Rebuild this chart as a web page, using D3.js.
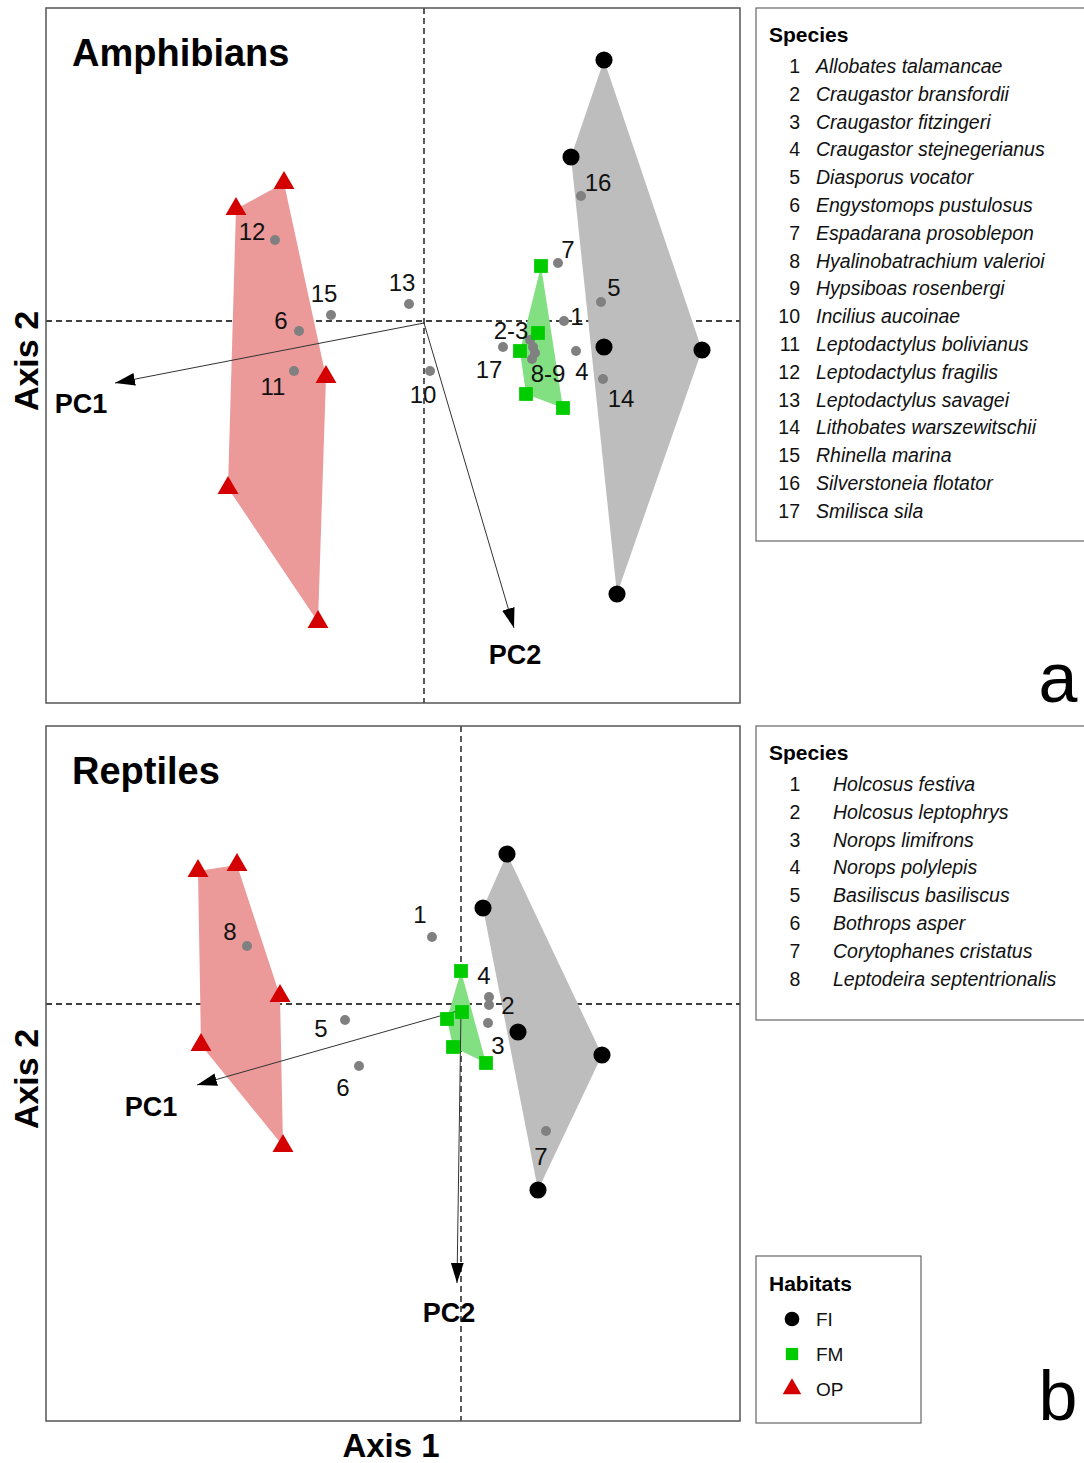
<!DOCTYPE html>
<html>
<head>
<meta charset="utf-8">
<script src="https://cdn.jsdelivr.net/npm/d3@7"></script>
<style>
  body { margin: 0; background: #fff; }
  text { font-family: "Liberation Sans", Arial, sans-serif; }
</style>
</head>
<body>
<div id="graph"></div>
<script>
// ---- data (ordination scores) ----
var habitats = ['FI', 'FM', 'OP']

// amphibians
var amphFI = [[1.80, 2.61], [1.47, 1.64], [1.80, -0.26], [2.78, -0.29], [1.93, -2.73]]
var amphFM = [[1.17, 0.55], [1.14, -0.12], [0.96, -0.30], [1.02, -0.73], [1.39, -0.87]]
var amphOP = [[-1.40, 1.38], [-1.88, 1.12], [-0.98, -0.56], [-1.96, -1.67], [-1.06, -3.01]]
var amphSpeciesPts = [[1.40, 0.00], [1.06, -0.19], [1.09, -0.26], [1.52, -0.30], [1.77, 0.19],
  [-1.25, -0.10], [1.34, 0.58], [1.11, -0.32], [1.08, -0.38], [0.06, -0.50], [-1.30, -0.50],
  [-1.49, 0.81], [-0.15, 0.17], [1.79, -0.58], [-0.93, 0.06], [1.57, 1.25], [0.79, -0.26]]
var amphPtLabels = ['1', '2-3', '4', '5', '6', '7', '8-9', '10', '11', '12', '13', '14', '15', '16', '17']
var amphPtLabelXY = [[1.53, 0.05], [0.87, -0.09], [1.58, -0.50], [1.90, 0.34], [-1.43, 0.01],
  [1.44, 0.72], [1.24, -0.52], [-0.01, -0.73], [-1.51, -0.65], [-1.72, 0.90], [-0.22, 0.39],
  [1.97, -0.77], [-1.00, 0.28], [1.74, 1.39], [0.65, -0.48]]
var amphOrigin = [0, -0.02]
var amphPC = [[-3.09, -0.62], [0.90, -3.07]]
var amphPCLabelXY = [[-3.43, -0.83], [0.91, -3.34]]
var amphSpecies = ['Allobates talamancae', 'Craugastor bransfordii', 'Craugastor fitzingeri',
  'Craugastor stejnegerianus', 'Diasporus vocator', 'Engystomops pustulosus',
  'Espadarana prosoblepon', 'Hyalinobatrachium valerioi', 'Hypsiboas rosenbergi',
  'Incilius aucoinae', 'Leptodactylus bolivianus', 'Leptodactylus fragilis',
  'Leptodactylus savagei', 'Lithobates warszewitschii', 'Rhinella marina',
  'Silverstoneia flotator', 'Smilisca sila']

// reptiles
var reptFI = [[0.46, 1.50], [0.22, 0.96], [0.57, -0.28], [1.41, -0.51], [0.77, -1.86]]
var reptFM = [[0.00, 0.33], [0.01, -0.08], [-0.14, -0.15], [-0.08, -0.43], [0.25, -0.59]]
var reptOP = [[-2.63, 1.33], [-2.24, 1.39], [-1.81, 0.08], [-2.60, -0.41], [-1.78, -1.42]]
var reptSpeciesPts = [[-0.29, 0.67], [0.28, -0.01], [0.27, -0.19], [0.28, 0.07],
  [-1.16, -0.16], [-1.02, -0.62], [0.85, -1.27], [-2.14, 0.58]]
var reptPtLabels = ['1', '2', '3', '4', '5', '6', '7', '8']
var reptPtLabelXY = [[-0.41, 0.90], [0.47, -0.01], [0.37, -0.41], [0.23, 0.29],
  [-1.40, -0.24], [-1.18, -0.83], [0.80, -1.52], [-2.31, 0.73]]
var reptOrigin = [0, -0.06]
var reptPC = [[-2.64, -0.81], [-0.04, -2.79]]
var reptPCLabelXY = [[-3.10, -1.03], [-0.12, -3.09]]
var reptSpecies = ['Holcosus festiva', 'Holcosus leptophrys', 'Norops limifrons',
  'Norops polylepis', 'Basiliscus basiliscus', 'Bothrops asper',
  'Corytophanes cristatus', 'Leptodeira septentrionalis']

// ---- drawing ----
var W = 1084, H = 1463
var svg = d3.select('#graph').append('svg').attr('width', W).attr('height', H)
svg.append('rect').attr('width', W).attr('height', H).attr('fill', '#fff')

var defs = svg.append('defs')
defs.append('marker')
  .attr('id', 'arrow')
  .attr('viewBox', '0 0 10 10')
  .attr('refX', 10).attr('refY', 5)
  .attr('markerWidth', 20).attr('markerHeight', 20)
  .attr('markerUnits', 'userSpaceOnUse')
  .attr('orient', 'auto')
  .append('path').attr('d', 'M0,1.8 L10,5 L0,8.2 Z').attr('fill', '#000')

var fillCol = {FI: '#bdbdbd', FM: '#82e082', OP: '#eb9999'}
var markCol = {FI: '#000', FM: '#00cc00', OP: '#d40000'}
var markShape = {FI: d3.symbolCircle, FM: d3.symbolSquare, OP: d3.symbolTriangle}
var markSize = {FI: 230, FM: 190, OP: 190}

d3.selection.prototype.dashed = function (a) {
  Object.keys(a).forEach(k => this.attr(k, a[k]))
  return this.attr('stroke', '#000').attr('stroke-width', 1.3).attr('stroke-dasharray', '6,4')
}

function panel(o) {
  // 695px tall frames, crosshair placed at (ox, oy) pixels inside frame
  var x = d3.scaleLinear().domain([(46 - o.ox) / 100, (740 - o.ox) / 100]).range([46, 740])
  var y = d3.scaleLinear().domain([o.oy / 100, (o.oy - 695) / 100]).range([o.top, o.top + 695])
  var g = svg.append('g')

  // crosshair
  g.append('line').dashed({x1: 46, x2: 740, y1: y(0), y2: y(0)})
  g.append('line').dashed({x1: x(0), x2: x(0), y1: o.top, y2: o.top + 695})

  // hulls
  var groups = {FI: o.FI, FM: o.FM, OP: o.OP}
  habitats.forEach(h => {
    var pts = groups[h].map(d => [x(d[0]), y(d[1])])
    var hull = d3.polygonHull(pts)
    g.append('path').attr('d', 'M' + hull.join('L') + 'Z').attr('fill', fillCol[h])
  })

  // PC arrows
  o.pc.forEach(d => {
    g.append('line')
      .attr('x1', x(o.origin[0])).attr('y1', y(o.origin[1]))
      .attr('x2', x(d[0])).attr('y2', y(d[1]))
      .attr('stroke', '#333').attr('stroke-width', 1)
      .attr('marker-end', 'url(#arrow)')
  })
  o.pcLab.forEach((d, i) => {
    g.append('text').attr('x', x(d[0])).attr('y', y(d[1]))
      .attr('text-anchor', 'middle').attr('dominant-baseline', 'central')
      .attr('font-size', 27).attr('font-weight', 'bold').text('PC' + (i + 1))
  })

  // species points
  g.selectAll('circle.sp').data(o.sp).join('circle')
    .attr('cx', d => x(d[0])).attr('cy', d => y(d[1])).attr('r', 5)
    .attr('fill', '#808080')
  g.selectAll('text.lab').data(o.labXY).join('text')
    .attr('x', d => x(d[0])).attr('y', d => y(d[1]))
    .attr('text-anchor', 'middle').attr('dominant-baseline', 'central')
    .attr('font-size', 24).attr('fill', '#111')
    .text((d, i) => o.labs[i])

  // habitat markers
  habitats.forEach(h => {
    g.selectAll(null).data(groups[h]).join('path')
      .attr('d', d3.symbol(markShape[h], markSize[h]))
      .attr('transform', d => `translate(${x(d[0])},${y(d[1])})`)
      .attr('fill', markCol[h])
  })

  // frame
  g.append('rect').attr('x', 46).attr('y', o.top).attr('width', 694).attr('height', 695)
    .attr('fill', 'none').attr('stroke', '#555').attr('stroke-width', 1.5)

  g.append('text').attr('x', 72).attr('y', o.top + 58)
    .attr('font-size', 38).attr('font-weight', 'bold').text(o.title)

  g.append('text')
    .attr('transform', `translate(38,${o.top + 353}) rotate(-90)`)
    .attr('text-anchor', 'middle').attr('font-size', 34).attr('font-weight', 'bold')
    .text('Axis 2')

  g.append('text').attr('x', 1058).attr('y', o.top + 694)
    .attr('text-anchor', 'middle').attr('font-size', 70).text(o.letter)
}

panel({top: 8, ox: 424, oy: 313, title: 'Amphibians', letter: 'a',
  FI: amphFI, FM: amphFM, OP: amphOP, sp: amphSpeciesPts,
  labs: amphPtLabels, labXY: amphPtLabelXY, origin: amphOrigin,
  pc: amphPC, pcLab: amphPCLabelXY})

panel({top: 726, ox: 461, oy: 278, title: 'Reptiles', letter: 'b',
  FI: reptFI, FM: reptFM, OP: reptOP, sp: reptSpeciesPts,
  labs: reptPtLabels, labXY: reptPtLabelXY, origin: reptOrigin,
  pc: reptPC, pcLab: reptPCLabelXY})

svg.append('text').attr('x', 391).attr('y', 1457)
  .attr('text-anchor', 'middle').attr('font-size', 33).attr('font-weight', 'bold')
  .text('Axis 1')

// species legends
function speciesLegend(top, h, names, numX, numAnchor, nameX) {
  var g = svg.append('g')
  g.append('rect').attr('x', 756).attr('y', top).attr('width', 340).attr('height', h)
    .attr('fill', '#fff').attr('stroke', '#666').attr('stroke-width', 1.2)
  g.append('text').attr('x', 769).attr('y', top + 34)
    .attr('font-size', 21).attr('font-weight', 'bold').text('Species')
  var rows = g.selectAll('g.row').data(names).join('g')
    .attr('transform', (d, i) => `translate(0,${top + 65 + i * 27.8})`)
  rows.append('text').attr('x', numX).attr('text-anchor', numAnchor)
    .attr('font-size', 19.5).attr('fill', '#111').text((d, i) => i + 1)
  rows.append('text').attr('x', nameX).attr('font-size', 19.5)
    .attr('font-style', 'italic').attr('fill', '#111').text(d => d)
}
speciesLegend(8, 533, amphSpecies, 800, 'end', 816)
speciesLegend(726, 294, reptSpecies, 795, 'middle', 833)

// habitat legend
var hl = svg.append('g')
hl.append('rect').attr('x', 756).attr('y', 1256).attr('width', 165).attr('height', 167)
  .attr('fill', '#fff').attr('stroke', '#666').attr('stroke-width', 1.2)
hl.append('text').attr('x', 769).attr('y', 1291)
  .attr('font-size', 21).attr('font-weight', 'bold').text('Habitats')
habitats.forEach((h, i) => {
  var cy = 1319 + i * 35
  hl.append('path').attr('d', d3.symbol(markShape[h], h === 'FI' ? 170 : 150))
    .attr('transform', `translate(792,${cy})`).attr('fill', markCol[h])
  hl.append('text').attr('x', 816).attr('y', cy).attr('dominant-baseline', 'central')
    .attr('font-size', 19).attr('fill', '#111').text(h)
})
</script>
</body>
</html>
